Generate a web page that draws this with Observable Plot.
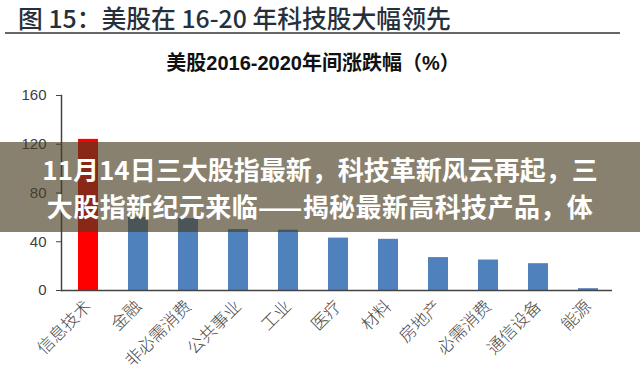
<!DOCTYPE html>
<html>
<head>
<meta charset="utf-8">
<script src="https://cdn.jsdelivr.net/npm/d3@7"></script>
<script src="https://cdn.jsdelivr.net/npm/@observablehq/plot@0.6"></script>
<style>
  html, body { margin: 0; padding: 0; background: #fff; }
  #wrap { position: relative; width: 640px; height: 374px; overflow: hidden; background: #fff; }
  #title { position: absolute; top: 2px; left: 18px; font-family: "Noto Sans CJK SC", sans-serif; font-weight: 500; font-size: 24.8px; color: #26303c; white-space: nowrap; line-height: 30px; }
  #rule { position: absolute; top: 32px; left: 5px; width: 615px; height: 2px; background: #666; }
  #subtitle { position: absolute; top: 51px; left: 6px; width: 614px; text-align: center; font-family: "Liberation Sans", "Noto Sans CJK SC", sans-serif; font-weight: bold; font-size: 20px; color: #111; white-space: nowrap; line-height: 24px; }
  #chart { position: absolute; top: 75px; left: 0; }
  #banner { position: absolute; top: 142px; left: 0; width: 640px; height: 90px; background: rgba(74, 62, 34, 0.65); color: #fff; font-family: "Noto Sans CJK SC", sans-serif; font-weight: bold; font-size: 26px; text-align: center; z-index: 5; }
  #banner div { line-height: 37px; white-space: nowrap; }
</style>
</head>
<body>
<div id="wrap">
  <div id="title">图 15：美股在 16-20 年科技股大幅领先</div>
  <div id="rule"></div>
  <div id="subtitle">美股2016-2020年间涨跌幅（%）</div>
  <div id="chart"></div>
  <div id="banner"><div style="padding-top:8px">11月14日三大股指最新，科技革新风云再起，三</div><div style="letter-spacing:0.4px">大股指新纪元来临——揭秘最新高科技产品，体</div></div>
</div>
<script>
const sectors = ["信息技术", "金融", "非必需消费", "公共事业", "工业", "医疗", "材料", "房地产", "必需消费", "通信设备", "能源"];
const returns = [124, 60, 59, 50, 49.5, 43, 42, 27, 25, 22, 1.5];
const yTicks = [0, 40, 80, 120, 160];
const highlight = "信息技术";

const data = sectors.map((s, i) => ({sector: s, value: returns[i]}));

const chart = Plot.plot({
  width: 640,
  height: 299,
  marginTop: 20,
  marginBottom: 84,
  marginLeft: 61,
  marginRight: 28,
  style: {background: "#fff", fontFamily: "'Liberation Sans', 'Noto Sans CJK SC', sans-serif", color: "#404040", overflow: "visible"},
  x: {domain: sectors, paddingInner: 0.61, paddingOuter: 0.29, align: 0.55, label: null},
  y: {domain: [0, 160], label: null},
  marks: [
    Plot.barY(data, {x: "sector", y: "value", fill: d => d.sector === highlight ? "#ff0000" : "#4f81bd"}),
    Plot.ruleY([0], {stroke: "#444", strokeWidth: 1.5}),
    Plot.frame({anchor: "left", stroke: "#444", strokeWidth: 1.5}),
    Plot.axisY({ticks: yTicks, tickSize: 5, tickPadding: 10, fontSize: 15, label: null, stroke: "#444"}),
    Plot.axisX({tickSize: 0, tickRotate: -45, tickPadding: 13, fontSize: 17, label: null, fontFamily: "'Noto Sans CJK SC', sans-serif", fontWeight: 300, fill: "#4a4a4a", style: {letterSpacing: "1px"}})
  ]
});
document.getElementById("chart").appendChild(chart);
</script>
</body>
</html>
